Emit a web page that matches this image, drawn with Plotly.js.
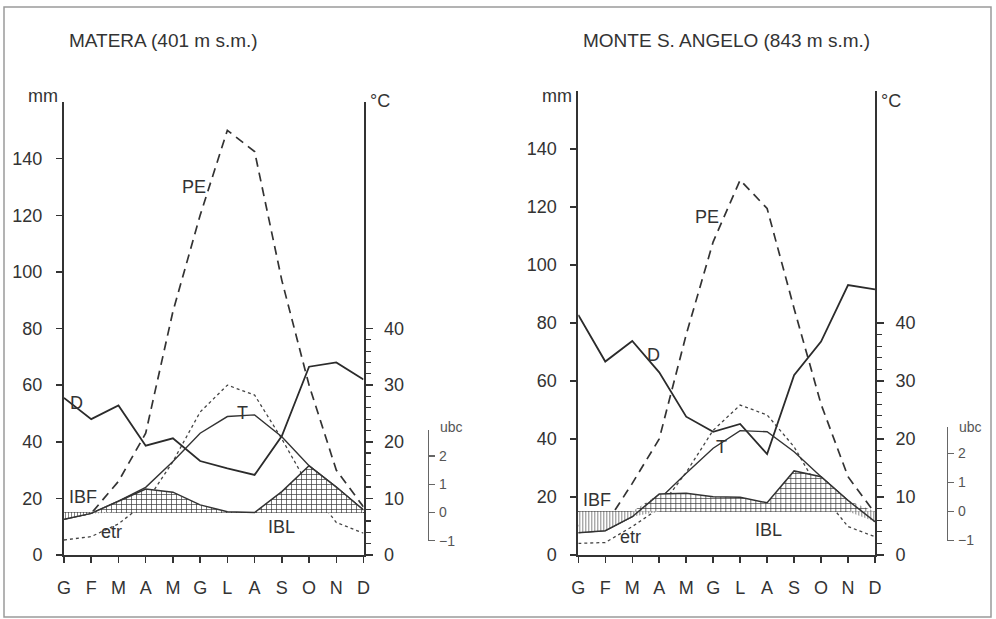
<!DOCTYPE html>
<html><head><meta charset="utf-8">
<script src="https://cdn.plot.ly/plotly-3.0.1.min.js"></script>
<style>html,body{margin:0;padding:0;background:#fff}#chart{width:996px;height:619px}</style>
</head><body><div id="chart"></div>
<script>
// ---------------- DATA ----------------
const months = ['G','F','M','A','M','G','L','A','S','O','N','D'];
const mmTicks = [0,20,40,60,80,100,120,140];
const degTicks = [0,10,20,30,40];
const ubcTicks = [-1,0,1,2];

// MATERA (401 m s.m.)
const materaTitle = 'MATERA (401 m s.m.)';
const materaD   = [55.5, 48, 52.8, 38.6, 41.2, 33.2, 30.6, 28.3, 42, 66.5, 68, 62];      // mm
const materaPE  = [13, 14.7, 26, 43, 86, 120, 150, 142.5, 97, 60, 30, 17];              // mm
const materaEtr = [5.3, 6.5, 11, 18.5, 33, 50.5, 60, 56.5, 41, 24, 11.5, 7.7];          // mm
const materaT   = [6.3, 7.35, 9.5, 11.95, 16.5, 21.5, 24.45, 24.75, 20.9, 15.75, 12, 7.95]; // °C
const materaIB  = [-0.24, -0.03, 0.4, 0.83, 0.72, 0.27, 0.03, 0, 0.74, 1.65, 0.9, 0.09]; // ubc

// MONTE S. ANGELO (843 m s.m.)
const msaTitle = 'MONTE S. ANGELO (843 m s.m.)';
const msaD   = [82.8, 66.7, 73.8, 63, 47.7, 42.5, 45.2, 34.8, 62, 73.6, 93.1, 91.6];
const msaPE  = [10.1, 10.3, 24.7, 40, 76, 108, 129.3, 119.5, 85, 52, 27, 14.4];
const msaEtr = [4, 4.3, 9.8, 16.1, 28.5, 43, 51.7, 48.3, 37.3, 21.3, 9.8, 6.3];
const msaT   = [3.85, 4.2, 6.6, 9.6, 14.1, 18.4, 21.45, 21.25, 17.8, 13.5, 9.4, 5.75];
const msaIB  = [-0.73, -0.66, -0.18, 0.6, 0.63, 0.51, 0.49, 0.3, 1.4, 1.2, 0.38, -0.35];

// ---------------- LAYOUT ----------------
const W = 996, H = 619;
const px = v => v / W, py = v => 1 - v / H;
const FONT = 'Liberation Sans, Arial, sans-serif';
const INK = '#333';

const panels = [
  {title: materaTitle, D: materaD, PE: materaPE, etr: materaEtr, T: materaT, IB: materaIB,
   x0: 64, x1: 363.5, yb: 555, yt: 102, ubcX: 428, titleX: 67,
   lab: {PE:[4.78,130], D:[0.47,53.6], T:[6.54,50], IBF:[0.71,20.6], etr:[1.75,8.2], IBL:[8.0,10]}},
  {title: msaTitle, D: msaD, PE: msaPE, etr: msaEtr, T: msaT, IB: msaIB,
   x0: 578.3, x1: 875, yb: 555, yt: 91, ubcX: 947, titleX: 580.7,
   lab: {PE:[4.76,116.7], D:[2.78,69], T:[5.32,37.3], IBF:[0.68,19], etr:[1.92,6.3], IBL:[7.05,8.6]}}
];

const idx = months.map((_, i) => i);
const data = [];
const layout = {
  width: W, height: H, margin: {l:0, r:0, t:0, b:0},
  paper_bgcolor: '#fff', plot_bgcolor: 'rgba(0,0,0,0)',
  showlegend: false, font: {family: FONT, color: INK, size: 18},
  annotations: [], shapes: [
    {type:'rect', xref:'paper', yref:'paper', x0: px(4), x1: px(991), y0: py(617), y1: py(7),
     line:{color:'#9a9a9a', width:1.5}}
  ]
};

panels.forEach((p, k) => {
  const xa = k === 0 ? 'x' : 'x2';
  const yn = [1,2,3,4].map(j => k*4 + j);
  const yid = yn.map(n => n === 1 ? 'y' : 'y' + n);
  const ykey = yn.map(n => n === 1 ? 'yaxis' : 'yaxis' + n);
  const xkey = k === 0 ? 'xaxis' : 'xaxis2';
  const dom = [py(p.yb), py(p.yt)];
  const mmMax = 160;
  const fr = mm => dom[0] + (mm / mmMax) * (dom[1] - dom[0]);

  layout[xkey] = {domain: [px(p.x0), px(p.x1)], range: [0, 11], anchor: yid[0],
    tickmode: 'array', tickvals: idx, ticktext: months, ticks: 'outside', ticklen: 6, tickwidth: 1.5,
    tickcolor: INK, showline: true, linecolor: INK, linewidth: 2, showgrid: false, zeroline: false,
    ticklabelstandoff: 9, tickfont: {size: 18, color: INK}, fixedrange: true};
  layout[ykey[0]] = {domain: dom, range: [0, mmMax], anchor: xa, tickmode: 'array', tickvals: mmTicks,
    ticks: 'outside', ticklen: 6, tickwidth: 1.5, tickcolor: INK, showline: true, linecolor: INK,
    linewidth: 2, showgrid: false, zeroline: false, ticklabelstandoff: 10, tickfont: {size: 18, color: INK}};
  layout[ykey[1]] = {overlaying: yid[0], side: 'right', anchor: xa, range: [0, mmMax/2],
    tickmode: 'array', tickvals: degTicks, ticks: 'outside', ticklen: 7, tickwidth: 1.5, tickcolor: INK,
    minor: {tickmode: 'array', tickvals: [2,4,6,8,12,14,16,18,22,24,26,28,32,34,36,38], ticks: 'outside',
            ticklen: 5, tickwidth: 1.2, tickcolor: INK},
    showline: true, linecolor: INK, linewidth: 2, showgrid: false, zeroline: false,
    ticklabelstandoff: 8, tickfont: {size: 18, color: INK}};
  layout[ykey[2]] = {overlaying: yid[0], anchor: xa, range: [-1.5, (mmMax - 15) / 10],
    showticklabels: false, ticks: '', showline: false, showgrid: false,
    zeroline: true, zerolinecolor: '#2b2b2b', zerolinewidth: 1.8};
  layout[ykey[3]] = {domain: [fr(5), fr(44)], range: [-1, 2.9], anchor: 'free', position: px(p.ubcX),
    side: 'right', tickmode: 'array', tickvals: ubcTicks, ticks: 'outside', ticklen: 6, tickwidth: 1.2,
    tickcolor: '#666', showline: true, linecolor: '#666', linewidth: 1.3, showgrid: false, zeroline: false,
    ticklabelstandoff: 1, tickfont: {size: 14, color: '#555'}};

  // IBL / IBF hatched areas on the ubc scale (0 ubc = 7.5 °C)
  data.push({x: idx, y: p.IB.map(v => Math.max(v, 0)), xaxis: xa, yaxis: yid[2], type: 'scatter',
    mode: 'lines', line: {width: 0}, fill: 'tozeroy', fillcolor: '#ffffff',
    fillpattern: {shape: '+', size: 5, solidity: 0.25, fgcolor: '#333', bgcolor: '#ffffff'}, hoverinfo: 'skip'});
  data.push({x: idx, y: p.IB.map(v => Math.min(v, 0)), xaxis: xa, yaxis: yid[2], type: 'scatter',
    mode: 'lines', line: {width: 0}, fill: 'tozeroy', fillcolor: '#ffffff',
    fillpattern: {shape: '|', size: 3, solidity: 0.3, fgcolor: '#777', bgcolor: '#ffffff'}, hoverinfo: 'skip'});
  data.push({x: idx, y: p.IB, xaxis: xa, yaxis: yid[2], type: 'scatter', mode: 'lines',
    line: {color: INK, width: 1.5}});
  // etr dotted
  data.push({x: idx, y: p.etr, xaxis: xa, yaxis: yid[0], type: 'scatter', mode: 'lines',
    line: {color: '#444', width: 1.3, dash: 'dot'}});
  // PE dashed
  data.push({x: idx, y: p.PE, xaxis: xa, yaxis: yid[0], type: 'scatter', mode: 'lines',
    line: {color: INK, width: 1.7, dash: '9px,6px'}});
  // D solid
  data.push({x: idx, y: p.D, xaxis: xa, yaxis: yid[0], type: 'scatter', mode: 'lines',
    line: {color: '#2b2b2b', width: 1.8}});
  // T solid on °C
  data.push({x: idx, y: p.T, xaxis: xa, yaxis: yid[1], type: 'scatter', mode: 'lines',
    line: {color: INK, width: 1.4}});
  // dummy trace so the short ubc axis is drawn
  data.push({x: [], y: [], xaxis: xa, yaxis: yid[3], type: 'scatter', mode: 'lines', showlegend: false});

  // texts
  layout.annotations.push({text: p.title, xref: 'paper', yref: 'paper', x: px(p.titleX), y: py(41),
    xanchor: 'left', yanchor: 'middle', showarrow: false, font: {size: 19, color: INK}});
  layout.annotations.push({text: 'mm', xref: 'paper', yref: 'paper', x: px(p.x0 - 4), y: py(96),
    xanchor: 'right', yanchor: 'middle', showarrow: false, font: {size: 18, color: INK}});
  layout.annotations.push({text: '°C', xref: 'paper', yref: 'paper', x: px(p.x1 + 4), y: py(101),
    xanchor: 'left', yanchor: 'middle', showarrow: false, font: {size: 18, color: INK}});
  layout.annotations.push({text: 'ubc', xref: 'paper', yref: 'paper', x: px(p.ubcX + 10), y: py(427),
    xanchor: 'left', yanchor: 'middle', showarrow: false, font: {size: 14, color: '#555'}});
  Object.keys(p.lab).forEach(name => {
    const [lx, ly] = p.lab[name];
    layout.annotations.push({text: name, xref: xa, yref: yid[0], x: lx, y: ly, xanchor: 'center',
      yanchor: 'middle', showarrow: false, font: {size: 18, color: INK}});
  });
});

Plotly.newPlot('chart', data, layout, {staticPlot: true, displayModeBar: false});
</script>
</body></html>
